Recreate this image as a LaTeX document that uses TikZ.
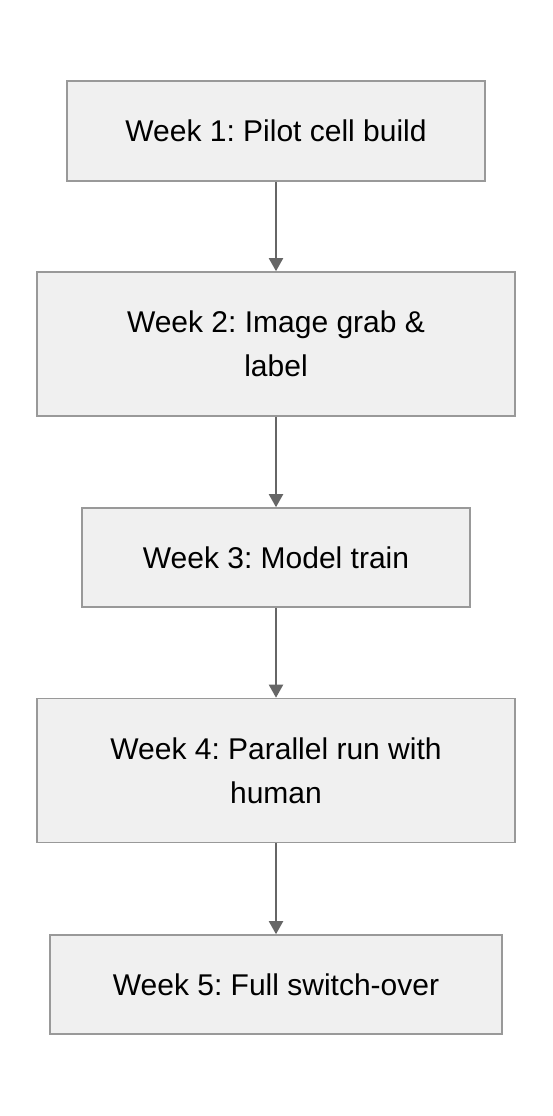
\documentclass[tikz,border=0pt]{standalone}
\usepackage{fontspec}
\setmainfont{Liberation Sans}
\usetikzlibrary{arrows.meta}
\frenchspacing

\tikzset{
	weekbox/.style={draw=black!40, fill=black!6, line width=1.6pt, inner sep=0pt,
		align=center, font=\fontsize{30}{44}\selectfont},
	weekarrow/.style={draw=black!60, line width=2pt, -{Triangle[length=13pt, width=14pt]}}
}

\begin{document}
\begin{tikzpicture}[x=1pt, y=-1pt]
	
	%\draw[help lines] (0,0) grid (552,1116);
	\useasboundingbox (0,0) rectangle (552,1116);
	
	\node[weekbox, minimum width=418, minimum height=100] (w1) at (276, 131) {Week 1: Pilot cell build}; % 1
	
	\node[weekbox, minimum width=478, minimum height=144] (w2) at (276, 344) {Week 2: Image grab \&\\label}; % 2
	
	\node[weekbox, minimum width=388, minimum height=99] (w3) at (276, 557.5) {Week 3: Model train}; % 3
	
	\node[weekbox, minimum width=478, minimum height=144] (w4) at (276, 770.5) {Week 4: Parallel run with\\human}; % 4
	
	\node[weekbox, minimum width=452, minimum height=99] (w5) at (276, 984.5) {Week 5: Full switch-over}; % 5
	
	\draw[weekarrow] (w1) -- (w2);
	\draw[weekarrow] (w2) -- (w3);
	\draw[weekarrow] (w3) -- (w4);
	\draw[weekarrow] (w4) -- (w5);

\end{tikzpicture}
\end{document}
